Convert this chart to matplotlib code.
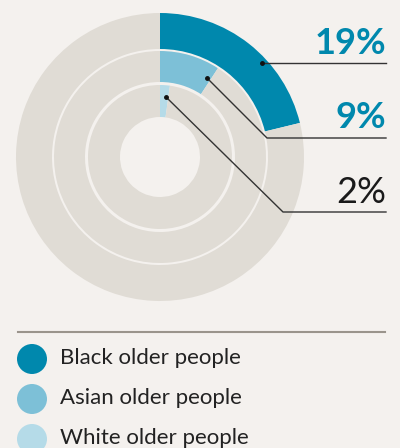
import matplotlib
matplotlib.use("Agg")
import matplotlib.pyplot as plt
from matplotlib.patches import Circle

# datos
grupos = ["Black older people", "Asian older people", "White older people"]
etiquetas = ["19%", "9%", "2%"]
arcos = [21.2, 9.2, 2.2]  # extension de cada arco tal como se ve en el dibujo
colores = ["#0088ad", "#7dc0d7", "#b5dbe8"]
color_etiqueta = ["#0088ad", "#0088ad", "#1a1a1a"]
peso_etiqueta = ["bold", "bold", "normal"]

fondo = "#f4f1ee"
gris = "#e0dcd5"

plt.rcParams["font.family"] = ["Lato", "DejaVu Sans"]

fig = plt.figure(figsize=(4, 4.48), dpi=100, facecolor=fondo)
ax = fig.add_axes([0, 0, 1, 1])
ax.set_facecolor(fondo)

H = 448
centro = (160, H - 157)
radios = [144, 106, 72]
anchos = [36, 31, 32]

for r, w, v, c in zip(radios, anchos, arcos, colores):
    ax.pie([v, 100 - v], colors=[c, gris], startangle=90, counterclock=False,
           radius=r, center=centro, frame=True,
           wedgeprops=dict(width=w, linewidth=0))
ax.set_xlim(0, 400)
ax.set_ylim(0, 448)
ax.set_aspect("auto")
ax.axis("off")

# lineas guia y etiquetas
puntos = [(262, 63), (207, 78), (166, 97)]
codos = [(262, 63), (267, 138), (283, 212)]
base = [54, 128, 203]
for p, q, b, t, ct, pt in zip(puntos, codos, base, etiquetas, color_etiqueta, peso_etiqueta):
    ax.plot([p[0], q[0], 386], [H - p[1], H - q[1], H - q[1]], color="#333333", lw=1)
    ax.plot(p[0], H - p[1], "o", color="#111111", ms=2.5)
    ax.text(386, H - b, t, ha="right", va="baseline", fontsize=26,
            color=ct, fontweight=pt)

# leyenda
ax.plot([18, 385], [H - 332, H - 332], color="#9a948c", lw=1.5)
for i, (g, c) in enumerate(zip(grupos, colores)):
    y = 359 + i * 40
    ax.add_patch(Circle((32, H - y), 15, color=c, lw=0))
    ax.text(60, H - y - 5, g, ha="left", va="baseline", fontsize=16, color="#222222")

fig.savefig("out.png", dpi=100, facecolor=fondo)
